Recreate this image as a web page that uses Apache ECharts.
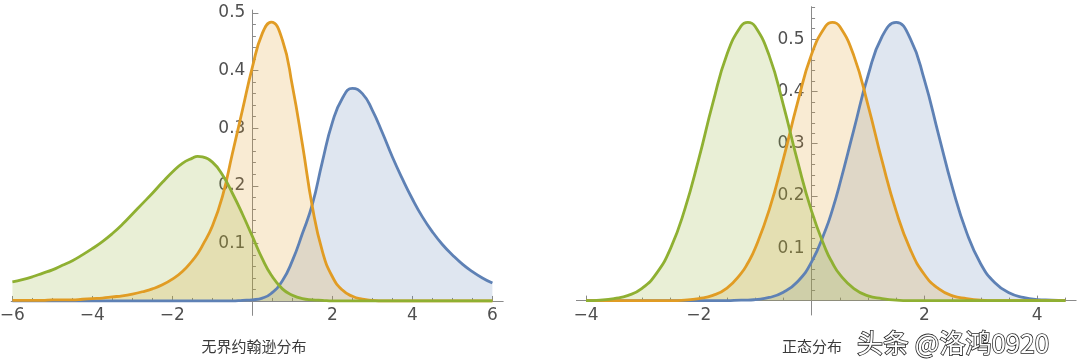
<!DOCTYPE html>
<html>
<head>
<meta charset="utf-8">
<script src="https://cdn.jsdelivr.net/npm/echarts@6.0.0/dist/echarts.min.js"></script>
<style>
html,body{margin:0;padding:0;background:#fff;}
#main{width:1080px;height:363px;}
</style>
</head>
<body>
<div id="main"></div>
<script>
// ---------- data: left panel (Johnson SU) ----------
const LEFT_X = [-6,-5.75,-5.5,-5.25,-5,-4.75,-4.5,-4.25,-4,-3.75,-3.5,-3.25,-3,-2.75,-2.5,-2.25,-2,-1.75,-1.5,-1.37,-1.25,-1,-0.75,-0.5,-0.25,0,0.25,0.47,0.75,1,1.25,1.5,1.75,2,2.25,2.5,2.75,3,3.25,3.5,3.75,4,4.25,4.5,4.75,5,5.25,5.5,5.75,6];
const LEFT_GREEN = [0.033,0.037,0.042,0.048,0.054,0.062,0.070,0.080,0.091,0.103,0.117,0.133,0.151,0.169,0.187,0.206,0.224,0.239,0.248,0.251,0.250,0.241,0.219,0.187,0.151,0.112,0.073,0.045,0.021,0.010,0.004,0.002,0.001,0,0,0,0,0,0,0,0,0,0,0,0,0,0,0,0,0];
const LEFT_ORANGE = [0.001,0.001,0.001,0.001,0.002,0.002,0.002,0.003,0.004,0.005,0.007,0.009,0.012,0.016,0.021,0.028,0.038,0.051,0.070,0.082,0.096,0.130,0.181,0.256,0.331,0.406,0.465,0.484,0.453,0.373,0.272,0.163,0.086,0.042,0.019,0.008,0.003,0.001,0,0,0,0,0,0,0,0,0,0,0,0];
const LEFT_BLUE = [0,0,0,0,0,0,0,0,0,0,0,0,0,0,0,0,0,0,0,0,0,0,0,0,0.001,0.002,0.005,0.013,0.035,0.070,0.117,0.168,0.242,0.310,0.352,0.369,0.360,0.331,0.292,0.250,0.212,0.177,0.146,0.120,0.098,0.080,0.064,0.051,0.040,0.031];

// ---------- data: right panel (normal) ----------
const RIGHT_X = [-4,-3.75,-3.5,-3.25,-3,-2.75,-2.5,-2.25,-2,-1.75,-1.5,-1.25,-1.13,-1,-0.75,-0.5,-0.25,0,0.25,0.37,0.5,0.75,1,1.25,1.5,1.75,2,2.25,2.5,2.75,3,3.25,3.5,3.75,4,4.25,4.5];
const RIGHT_GREEN = [0,0.001,0.004,0.010,0.024,0.052,0.100,0.174,0.271,0.378,0.471,0.525,0.532,0.524,0.468,0.374,0.267,0.171,0.098,0.072,0.050,0.023,0.009,0.004,0.001,0,0,0,0,0,0,0,0,0,0,0,0];
const RIGHT_ORANGE = [0,0,0,0,0,0,0,0.001,0.004,0.010,0.024,0.052,0.072,0.100,0.174,0.271,0.378,0.471,0.525,0.532,0.524,0.468,0.374,0.267,0.171,0.098,0.050,0.023,0.009,0.004,0.001,0,0,0,0,0,0];
const RIGHT_BLUE = [0,0,0,0,0,0,0,0,0,0,0,0.001,0.001,0.002,0.006,0.016,0.036,0.074,0.136,0.174,0.223,0.327,0.430,0.505,0.532,0.501,0.422,0.318,0.215,0.130,0.070,0.034,0.015,0.006,0.002,0.001,0];

// ---------- ticks / labels ----------
const LEFT_X_MAJOR = [-6,-4,-2,2,4,6];
const LEFT_X_MINOR = [-5.5,-5,-4.5,-3.5,-3,-2.5,-1.5,-1,-0.5,0.5,1,1.5,2.5,3,3.5,4.5,5,5.5];
const RIGHT_X_MAJOR = [-4,-2,2,4];
const RIGHT_X_MINOR = [-3.5,-3,-2.5,-1.5,-1,-0.5,0.5,1,1.5,2.5,3,3.5,4.5];
const Y_MAJOR = [0.1,0.2,0.3,0.4,0.5];
const LEFT_Y_MINOR = [0.02,0.04,0.06,0.08,0.12,0.14,0.16,0.18,0.22,0.24,0.26,0.28,0.32,0.34,0.36,0.38,0.42,0.44,0.46,0.48];
const RIGHT_Y_MINOR = [0.02,0.04,0.06,0.08,0.12,0.14,0.16,0.18,0.22,0.24,0.26,0.28,0.32,0.34,0.36,0.38,0.42,0.44,0.46,0.48,0.52,0.54,0.56];

const TITLE_LEFT = '无界约翰逊分布';
const TITLE_RIGHT = '正态分布';
const WATERMARK = '头条 @洛鸿0920';

const COLORS = {blue:'#5E81B5', orange:'#E19C24', green:'#8FB032'};
const AXIS_COLOR = '#8a8a8a';
const LABEL_STYLE = {color:'#505050', fontFamily:'DejaVu Sans', fontSize:17};

// panel layout (pixels) and axis ranges
const PANELS = [
  {left:11.2, top:10.06, width:492, height:305.3, xMin:-6.03, xMax:6.27, yMin:-0.025, yMax:0.505},
  {left:576.4, top:6.7, width:499.7, height:308.3, xMin:-4.17, xMax:4.69, yMin:-0.0275, yMax:0.562}
];

function fmt(v){ return v < 0 ? '\u2212' + (-v) : String(v); }

// axes cross at the origin: shift each axis from the grid edge to the zero position
function xOffset(p){ return -((0 - p.yMin) / (p.yMax - p.yMin)) * p.height; }
function yOffset(p){ return -((0 - p.xMin) / (p.xMax - p.xMin)) * p.width; }

function xAxisPair(g, major, minor){
  const p = PANELS[g], off = xOffset(p);
  return [
    {type:'value', gridIndex:g, min:p.xMin, max:p.xMax, position:'bottom', offset:off,
     axisLine:{show:true, onZero:false, lineStyle:{color:AXIS_COLOR, width:1}},
     axisTick:{show:true, inside:true, length:5, customValues:major, lineStyle:{color:AXIS_COLOR}},
     axisLabel:{show:true, customValues:major, margin:6, formatter:fmt, ...LABEL_STYLE},
     splitLine:{show:false}},
    {type:'value', gridIndex:g, min:p.xMin, max:p.xMax, position:'bottom', offset:off,
     axisLine:{show:false, onZero:false},
     axisTick:{show:true, inside:true, length:3, customValues:minor, lineStyle:{color:AXIS_COLOR}},
     axisLabel:{show:false}, splitLine:{show:false}}
  ];
}
function yAxisPair(g, major, minor){
  const p = PANELS[g], off = yOffset(p);
  return [
    {type:'value', gridIndex:g, min:p.yMin, max:p.yMax, position:'left', offset:off,
     axisLine:{show:true, onZero:false, lineStyle:{color:AXIS_COLOR, width:1}},
     axisTick:{show:true, inside:true, length:6, customValues:major, lineStyle:{color:AXIS_COLOR}},
     axisLabel:{show:true, customValues:major, margin:7, formatter:v=>String(v), ...LABEL_STYLE},
     splitLine:{show:false}},
    {type:'value', gridIndex:g, min:p.yMin, max:p.yMax, position:'left', offset:off,
     axisLine:{show:false, onZero:false},
     axisTick:{show:true, inside:true, length:3.5, customValues:minor, lineStyle:{color:AXIS_COLOR}},
     axisLabel:{show:false}, splitLine:{show:false}}
  ];
}

function curve(xs, ys, color, xi, yi){
  return {type:'line', xAxisIndex:xi, yAxisIndex:yi,
    data: xs.map((x,i)=>[x, ys[i]]),
    showSymbol:false, smooth:0.5, clip:false,
    lineStyle:{color:color, width:2.8},
    itemStyle:{color:color},
    areaStyle:{color:color, opacity:0.2, origin:0},
    emphasis:{disabled:true}, silent:true};
}

const chart = echarts.init(document.getElementById('main'), null, {renderer:'canvas'});
chart.setOption({
  animation:false,
  backgroundColor:'#ffffff',
  grid: PANELS.map(p => ({left:p.left, top:p.top, width:p.width, height:p.height, outerBoundsMode:'none', containLabel:false})),
  xAxis:[
    ...xAxisPair(0, LEFT_X_MAJOR, LEFT_X_MINOR),
    ...xAxisPair(1, RIGHT_X_MAJOR, RIGHT_X_MINOR)
  ],
  yAxis:[
    ...yAxisPair(0, Y_MAJOR, LEFT_Y_MINOR),
    ...yAxisPair(1, Y_MAJOR, RIGHT_Y_MINOR)
  ],
  series:[
    curve(LEFT_X, LEFT_BLUE, COLORS.blue, 0, 0),
    curve(LEFT_X, LEFT_ORANGE, COLORS.orange, 0, 0),
    curve(LEFT_X, LEFT_GREEN, COLORS.green, 0, 0),
    curve(RIGHT_X, RIGHT_BLUE, COLORS.blue, 2, 2),
    curve(RIGHT_X, RIGHT_ORANGE, COLORS.orange, 2, 2),
    curve(RIGHT_X, RIGHT_GREEN, COLORS.green, 2, 2)
  ],
  graphic:[
    {type:'text', x:254, y:346, style:{text:TITLE_LEFT, fontFamily:'Noto Sans CJK SC', fontSize:15, fill:'#3a3a3a', align:'center', verticalAlign:'middle'}},
    {type:'text', x:812, y:346, style:{text:TITLE_RIGHT, fontFamily:'Noto Sans CJK SC', fontSize:15, fill:'#3a3a3a', align:'center', verticalAlign:'middle'}},
    {type:'text', x:857, y:343, style:{text:WATERMARK, fontFamily:'Noto Sans CJK SC', fontSize:26, fill:'#ffffff', stroke:'#2a2a2a', lineWidth:1.6, align:'left', verticalAlign:'middle'}}
  ]
});
</script>
</body>
</html>
